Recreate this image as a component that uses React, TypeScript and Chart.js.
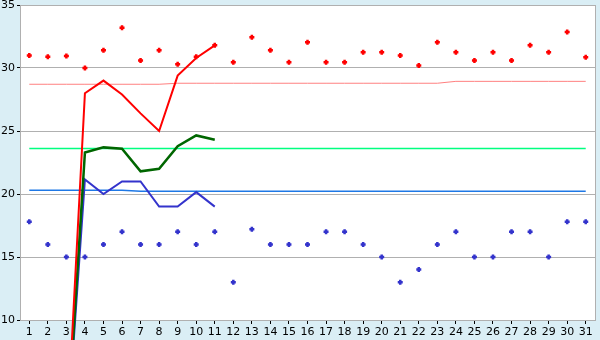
import React, { useEffect, useRef } from "react";
import { Chart, registerables } from "chart.js";

Chart.register(...registerables);

const days = ["1","2","3","4","5","6","7","8","9","10","11","12","13","14","15","16","17","18","19","20","21","22","23","24","25","26","27","28","29","30","31"];

const redPoints = [31.0,30.9,30.95,30.0,31.4,33.2,30.6,31.4,30.3,30.9,31.8,30.45,32.45,31.4,30.45,32.05,30.45,30.45,31.25,31.25,31.0,30.2,32.05,31.25,30.6,31.25,30.6,31.8,31.25,32.85,30.85];
const bluePoints = [17.8,16,15,15,16,17,16,16,17,16,17,13,17.2,16,16,16,17,17,16,15,13,14,16,17,15,15,17,17,15,17.8,17.8];

const redLine = [null,null,0,28.0,29.0,27.9,26.4,25.0,29.4,30.8,31.8,null,null,null,null,null,null,null,null,null,null,null,null,null,null,null,null,null,null,null,null];
const greenLine = [null,null,0,23.3,23.7,23.6,21.8,22.0,23.8,24.65,24.3,null,null,null,null,null,null,null,null,null,null,null,null,null,null,null,null,null,null,null,null];
const blueLine = [null,null,0,21.15,20.0,21.0,21.0,19.0,19.0,20.15,19.0,null,null,null,null,null,null,null,null,null,null,null,null,null,null,null,null,null,null,null,null];

const pinkRef = [28.71,28.71,28.71,28.71,28.71,28.71,28.71,28.71,28.79,28.79,28.79,28.79,28.79,28.79,28.79,28.79,28.79,28.79,28.79,28.79,28.79,28.79,28.79,28.94,28.94,28.94,28.94,28.94,28.94,28.94,28.94];
const greenRef = [23.62,23.62,23.62,23.62,23.62,23.62,23.62,23.62,23.62,23.62,23.62,23.62,23.62,23.62,23.62,23.62,23.62,23.62,23.62,23.62,23.62,23.62,23.62,23.62,23.62,23.62,23.62,23.62,23.62,23.62,23.62];
const blueRef = [20.29,20.29,20.29,20.29,20.29,20.29,20.21,20.21,20.21,20.21,20.21,20.21,20.21,20.21,20.21,20.21,20.21,20.21,20.21,20.21,20.21,20.21,20.21,20.21,20.21,20.21,20.21,20.21,20.21,20.21,20.21];

const yTicks = [10, 15, 20, 25, 30, 35];

const bgPlugin = {
  id: "bgPlugin",
  beforeDraw(chart: any) {
    const { ctx, chartArea, width, height } = chart;
    ctx.save();
    ctx.fillStyle = "#daeef5";
    ctx.fillRect(0, 0, width, height);
    ctx.fillStyle = "#ffffff";
    ctx.fillRect(chartArea.left, chartArea.top, chartArea.right - chartArea.left, chartArea.bottom - chartArea.top);
    ctx.restore();
  },
  beforeDatasetsDraw(chart: any) {
    const { ctx, chartArea } = chart;
    ctx.save();
    ctx.strokeStyle = "#b0b0b0";
    ctx.lineWidth = 1;
    ctx.beginPath();
    ctx.moveTo(Math.round(chartArea.right) + 0.5, chartArea.top);
    ctx.lineTo(Math.round(chartArea.right) + 0.5, chartArea.bottom);
    ctx.stroke();
    ctx.restore();
  },
};

export default function App() {
  const ref = useRef<HTMLCanvasElement | null>(null);
  useEffect(() => {
    document.body.style.margin = "0";
    const font = { family: "DejaVu Sans", size: 11 };
    const pointDs = (data: number[], color: string) => ({
      data,
      showLine: false,
      pointStyle: "cross",
      pointRadius: 2.5,
      pointBorderWidth: 2.5,
      borderColor: color,
      backgroundColor: color,
      pointHoverRadius: 2.5,
    });
    const lineDs = (data: any[], color: string, width: number, clip: any) => ({
      data,
      borderColor: color,
      backgroundColor: color,
      borderWidth: width,
      pointRadius: 0,
      tension: 0,
      spanGaps: false,
      clip,
    });
    const chart = new Chart(ref.current as HTMLCanvasElement, {
      type: "line",
      data: {
        labels: days,
        datasets: [
          pointDs(redPoints, "#ff0000"),
          pointDs(bluePoints, "#3333cc"),
          lineDs(redLine, "#ff0000", 2, false),
          lineDs(greenLine, "#006600", 2.5, false),
          lineDs(blueLine, "#3333cc", 2, false),
          lineDs(pinkRef, "#ff8080", 1, undefined),
          lineDs(greenRef, "#00ff80", 1.5, undefined),
          lineDs(blueRef, "#1e78e6", 1.5, undefined),
        ] as any,
      },
      options: {
        animation: false,
        responsive: true,
        maintainAspectRatio: false,
        layout: { padding: { top: 5, right: 5, left: 0, bottom: 0 } },
        plugins: { legend: { display: false }, tooltip: { enabled: false } },
        scales: {
          x: {
            type: "category",
            offset: true,
            grid: { drawOnChartArea: false, offset: false, tickLength: 4, tickColor: "#000000", tickWidth: 1 },
            border: { display: true, color: "#b0b0b0" },
            ticks: { font, color: "#000000", padding: 2, autoSkip: false, maxRotation: 0 },
            afterFit: (s: any) => { s.height = 20; s.paddingLeft = 0; s.paddingRight = 0; },
          },
          y: {
            min: 10,
            max: 35,
            afterBuildTicks: (s: any) => { s.ticks = yTicks.map((v) => ({ value: v })); },
            grid: { color: "#b0b0b0", tickColor: "#000000", tickLength: 3 },
            border: { display: true, color: "#b0b0b0" },
            ticks: { font, color: "#000000", padding: 2 },
            afterFit: (s: any) => { s.width = 20; s.paddingTop = 0; s.paddingBottom = 0; },
          },
        },
      } as any,
      plugins: [bgPlugin],
    });
    return () => chart.destroy();
  }, []);
  return (
    <div style={{ position: "absolute", left: 0, top: 0, width: 600, height: 340 }}>
      <canvas ref={ref} />
    </div>
  );
}
